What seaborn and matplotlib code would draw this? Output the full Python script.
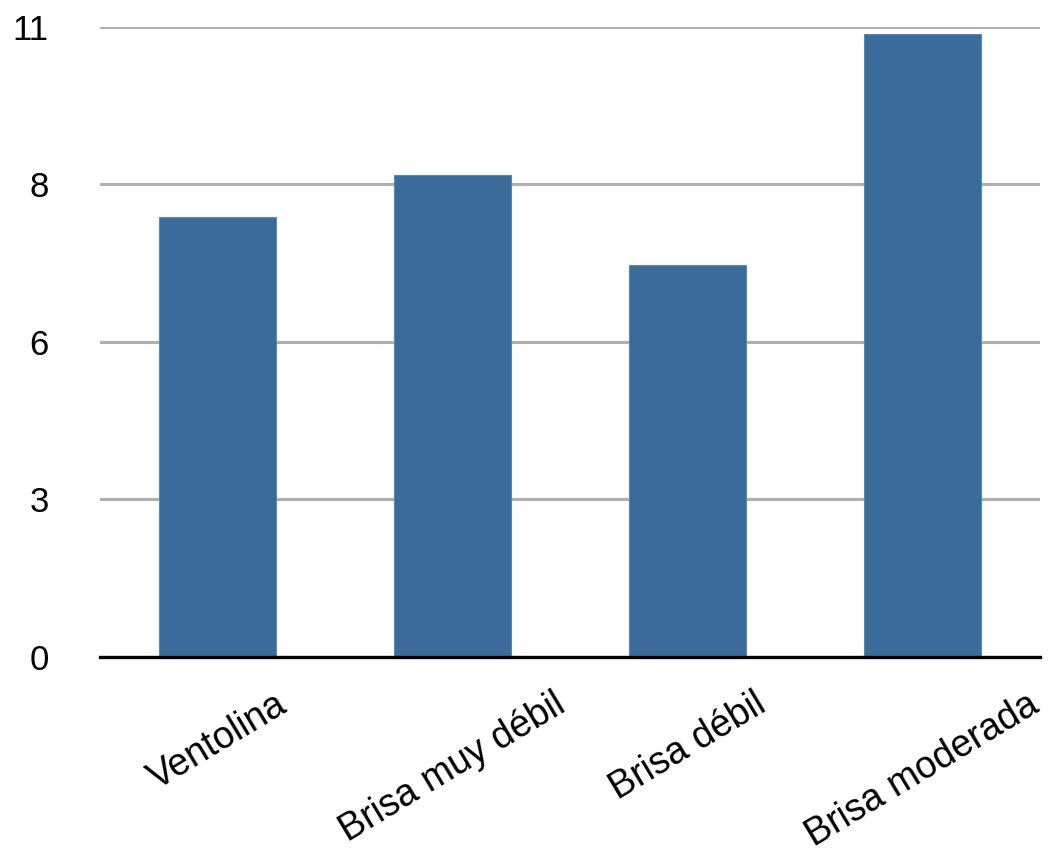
import matplotlib
matplotlib.use("Agg")
import matplotlib.pyplot as plt
import seaborn as sns
import pandas as pd

categories = ["Ventolina", "Brisa muy débil", "Brisa débil", "Brisa moderada"]
values = [7.68, 8.42, 6.84, 10.87]
tick_values = [0, 2.75, 5.5, 8.25, 11]
tick_labels = ["0", "3", "6", "8", "11"]

sns.set_theme(style="white")
plt.rcParams["font.family"] = ["Liberation Sans", "DejaVu Sans"]

df = pd.DataFrame({"categoria": categories, "valor": values})

fig = plt.figure(figsize=(10.61, 8.56), dpi=100)
ax = fig.add_axes([0.0942, 0.2325, 0.886, 0.736])

sns.barplot(data=df, x="categoria", y="valor", ax=ax, color="#3a6b9b",
            saturation=1, width=0.5, edgecolor="#5e87b0", linewidth=0.8,
            zorder=3)

ax.set_ylim(0, 11)
ax.set_xlim(-0.5, len(categories) - 0.5)
ax.set_yticks(tick_values)
ax.set_yticklabels(tick_labels, fontsize=25, color="black")
ax.yaxis.grid(True, color="#b0b0b0", linewidth=2.2, zorder=0)
ax.set_axisbelow(True)

for side in ["left", "right", "top"]:
    ax.spines[side].set_visible(False)
ax.spines["bottom"].set_color("black")
ax.spines["bottom"].set_linewidth(2.4)
ax.spines["bottom"].set_zorder(4)

ax.tick_params(axis="y", length=0, pad=37)
ax.tick_params(axis="x", length=0, pad=21)
ax.set_xticks(range(len(categories)))
ax.set_xticklabels(categories, fontsize=27, rotation=31, ha="center",
                   va="top", color="black")
ax.set_xlabel("")
ax.set_ylabel("")

fig.savefig("out.png", dpi=100, facecolor="white")
